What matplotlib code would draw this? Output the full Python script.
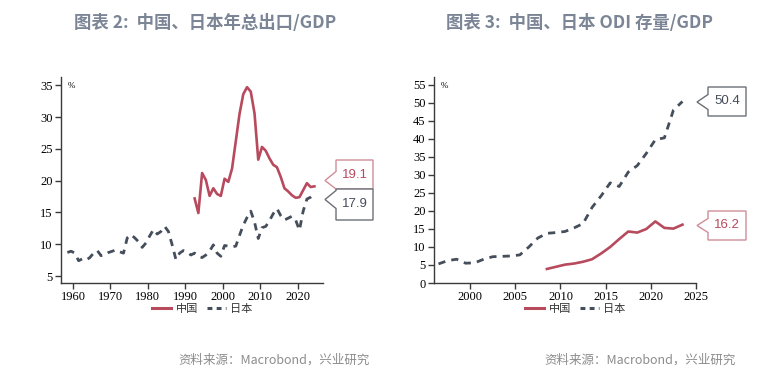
import numpy as np
import matplotlib
matplotlib.use("Agg")
import matplotlib.pyplot as plt
import matplotlib.transforms as mtransforms
from matplotlib.patches import Polygon
from matplotlib.lines import Line2D

# chart 2: exports / GDP (%), annual
cn_exp_years = list(range(1992, 2025))
cn_exp = [17.2, 14.9, 21.2, 20.1, 17.6, 18.8, 17.9, 17.6, 20.3, 19.8,
          21.9, 26.2, 30.5, 33.6, 34.7, 34.0, 30.6, 23.3, 25.3, 24.7,
          23.5, 22.5, 22.1, 20.6, 18.8, 18.3, 17.7, 17.3, 17.4, 18.5,
          19.6, 19.0, 19.1]
jp_exp_years = list(range(1958, 2025))
jp_exp = [8.7, 8.9, 8.6, 7.4, 7.7, 7.5, 7.9, 8.6, 9.0, 8.2,
          8.3, 8.7, 8.9, 9.1, 8.8, 8.6, 11.0, 11.5, 11.0, 10.4,
          9.5, 10.2, 11.3, 12.3, 11.6, 12.0, 12.8, 12.0, 9.9, 7.6,
          8.6, 9.0, 8.8, 8.3, 8.6, 8.1, 7.9, 8.3, 8.9, 9.9,
          8.6, 8.1, 9.8, 9.7, 9.6, 9.7, 11.4, 13.0, 14.2, 15.2,
          13.5, 10.9, 12.6, 12.8, 13.7, 14.8, 15.6, 14.5, 13.8, 14.1,
          14.4, 13.8, 12.2, 15.2, 17.1, 17.4, 17.9]

# chart 3: ODI stock / GDP (%), annual
cn_odi_years = list(range(2008, 2024))
cn_odi = [3.9, 4.5, 5.1, 5.4, 5.9, 6.6, 8.2, 10.0, 12.2, 14.3, 14.0, 15.0,
          17.1, 15.3, 15.1, 16.2]
jp_odi_years = list(range(1996, 2024))
jp_odi = [5.3, 6.2, 6.6, 5.5, 5.6, 6.6, 7.3, 7.4, 7.5, 7.8, 10.0, 12.5,
          13.8, 14.0, 14.3, 15.3, 16.5, 21.0, 24.2, 27.8, 26.8, 30.8,
          32.6, 36.0, 39.8, 40.3, 48.0, 50.4]

labels = ["中国", "日本"]
titles = ["图表 2:  中国、日本年总出口/GDP", "图表 3:  中国、日本 ODI 存量/GDP"]
source = "资料来源：Macrobond，兴业研究"

RED = "#b84a5e"
GREY = "#454e5b"
TITLE_C = "#7b8596"
CJK = ["Noto Sans CJK SC", "DejaVu Sans"]
SERIF = "Liberation Serif"

W, H = 783, 383
fig = plt.figure(figsize=(W / 100, H / 100), dpi=100)
# reference pixel coords (y down) -> figure
px = mtransforms.Affine2D().scale(1 / W, -1 / H).translate(0, 1) + fig.transFigure


def make_ax(x0, x1, y0, y1):
    return fig.add_axes([x0 / W, 1 - y1 / H, (x1 - x0) / W, (y1 - y0) / H])


def style(ax):
    for s in ["top", "right"]:
        ax.spines[s].set_visible(False)
    for s in ["left", "bottom"]:
        ax.spines[s].set_color("#3a3a3a")
        ax.spines[s].set_linewidth(1.0)
    ax.tick_params(direction="out", length=4, width=1, color="#3a3a3a",
                   labelsize=9, pad=2)
    for lab in ax.get_xticklabels() + ax.get_yticklabels():
        lab.set_fontfamily(SERIF)
    ax.text(0.025, 0.955, "%", transform=ax.transAxes, fontsize=6.5,
            family=SERIF, va="center")


def plot_pair(ax, cn_years, cn_vals, jp_years, jp_vals):
    # annual values drawn at mid-year
    ax.plot(np.array(cn_years) + 0.5, cn_vals, color=RED, lw=1.9,
            solid_joinstyle="round")
    ax.plot(np.array(jp_years) + 0.5, jp_vals, color=GREY, lw=2.0,
            linestyle=(0, (2.6, 2.2)))
    h = [Line2D([], [], color=RED, lw=2.2),
         Line2D([], [], color=GREY, lw=2.2, linestyle=(0, (1.6, 1.4)))]
    leg = ax.legend(h, labels, loc="center", bbox_to_anchor=(0.54, -0.125),
                    ncol=2, frameon=False, handlelength=1.7, handletextpad=0.4,
                    columnspacing=0.8, prop={"family": CJK, "size": 8})
    for t in leg.get_texts():
        t.set_color("#333333")


def callout(x0, x1, y0, y1, notch, text, edge, tc):
    # box with a left-pointing notch, in reference pixels
    (n0, tip_x, tip_y, n1) = notch
    pts = [(x0, y0), (x1, y0), (x1, y1), (x0, y1), (x0, n1),
           (tip_x, tip_y), (x0, n0)]
    fig.add_artist(Polygon(pts, closed=True, facecolor="white", edgecolor=edge,
                           lw=1.0, transform=px))
    fig.text((x0 + x1) / 2 / W, 1 - (y0 + y1) / 2 / H, text, color=tc,
             fontsize=9.5, family="Liberation Sans", ha="center", va="center")


# left chart
ax1 = make_ax(61, 323, 77, 283)
plot_pair(ax1, cn_exp_years, cn_exp, jp_exp_years, jp_exp)
ax1.set_xlim(1956.8, 2026.8)
ax1.set_ylim(3.9, 36.3)
ax1.set_xticks(range(1960, 2021, 10))
ax1.set_yticks(range(5, 36, 5))
style(ax1)

# right chart
ax2 = make_ax(434, 696, 77, 283)
plot_pair(ax2, cn_odi_years, cn_odi, jp_odi_years, jp_odi)
ax2.set_xlim(1996.0, 2025.0)
ax2.set_ylim(0, 57.2)
ax2.set_xticks(range(2000, 2026, 5))
ax2.set_yticks(range(0, 56, 5))
style(ax2)

callout(336, 373, 160, 189, (171.5, 325, 180.5, 189), f"{cn_exp[-1]:.1f}", "#cf8d99", RED)
callout(336, 373, 189, 220, (190.5, 325, 199.5, 208.5), f"{jp_exp[-1]:.1f}", "#6b6f75", GREY)
callout(708, 746, 87, 116, (94.5, 697, 102, 109.5), f"{jp_odi[-1]:.1f}", "#6b6f75", GREY)
callout(708, 746, 211, 240, (218.5, 697, 225.5, 232.5), f"{cn_odi[-1]:.1f}", "#cf8d99", RED)

fig.text(205 / W, 1 - 23 / H, titles[0], color=TITLE_C, fontsize=12.5,
         family=CJK, weight="bold", ha="center", va="center")
fig.text(580 / W, 1 - 23 / H, titles[1], color=TITLE_C, fontsize=12.5,
         family=CJK, weight="bold", ha="center", va="center")
fig.text(274 / W, 1 - 360 / H, source, color="#8c8c8c", fontsize=9,
         family=CJK, ha="center", va="center")
fig.text(640 / W, 1 - 360 / H, source, color="#8c8c8c", fontsize=9,
         family=CJK, ha="center", va="center")

fig.savefig("out.png", dpi=100)
